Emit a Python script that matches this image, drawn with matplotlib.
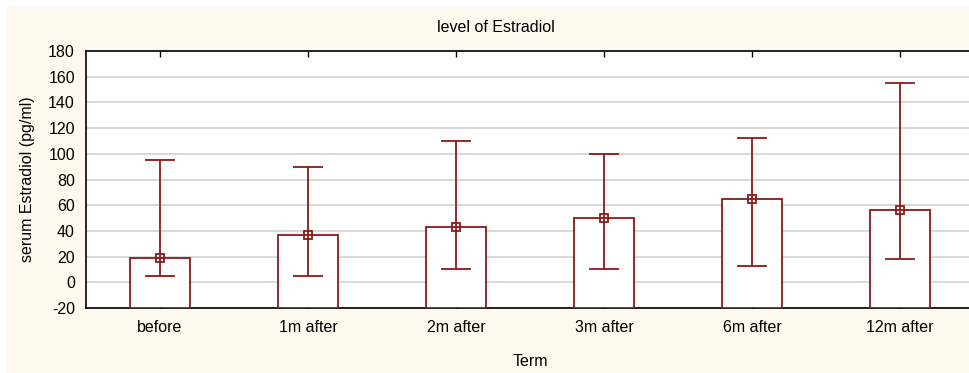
import numpy as np
import matplotlib
matplotlib.use('Agg')
import matplotlib.pyplot as plt
from matplotlib.patches import Rectangle

plt.rcParams['font.family'] = ['Liberation Sans', 'DejaVu Sans']
plt.rcParams['axes.unicode_minus'] = False

terms = ['before', '1m after', '2m after', '3m after', '6m after', '12m after']
means = [19, 37, 43, 50, 65, 56]
upper = [95, 90, 110, 100, 112, 155]
lower = [5, 5, 10, 10, 13, 18]

red = '#8B1A1A'
ymin, ymax = -20, 180
fs = 11.5

fig = plt.figure(figsize=(9.69, 3.73), dpi=100, facecolor='white')
# cream panel behind the plot (white strip left and top)
fig.patches.append(Rectangle((7 / 969, 0), 1, 367 / 373, transform=fig.transFigure,
                             facecolor='#FDF9EE', edgecolor='none', zorder=-10))

ax = fig.add_axes((86 / 969, 65 / 373, 888 / 969, 257 / 373))
ax.set_facecolor('white')
x = np.arange(len(terms))
means = np.array(means)

ax.bar(x, means - ymin, bottom=ymin, width=0.4, facecolor='white', edgecolor=red,
       linewidth=1.3, zorder=3)
ax.errorbar(x, means, yerr=[means - np.array(lower), np.array(upper) - means], fmt='s',
            color=red, ecolor=red, elinewidth=1.3, capsize=11, capthick=1.3,
            markersize=6, markerfacecolor='none', markeredgewidth=1.3, zorder=4)

ax.set_xlim(-0.5, len(terms) - 0.5)
ax.set_ylim(ymin, ymax)
ax.set_yticks(np.arange(-20, 181, 20))
ax.set_xticks(x)
ax.set_xticklabels(terms)
ax.yaxis.grid(True, color='#D6D6D6', linewidth=1.3, zorder=0)
ax.set_axisbelow(True)
ax.tick_params(axis='x', direction='in', top=True, length=4, width=1, labelsize=fs, pad=9)
ax.tick_params(axis='y', direction='in', length=0, labelsize=fs, pad=8)
for s in ax.spines.values():
    s.set_linewidth(1.2)

fig.text(496 / 969, 1 - 28 / 373, 'level of Estradiol', ha='center', va='center', fontsize=fs)
fig.text(28 / 969, 1 - 179 / 373, 'serum Estradiol (pg/ml)', ha='center', va='center',
         rotation=90, fontsize=fs)
fig.text(530 / 969, 1 - 361 / 373, 'Term', ha='center', va='center', fontsize=fs)

fig.savefig('out.png', dpi=100, facecolor=fig.get_facecolor())
